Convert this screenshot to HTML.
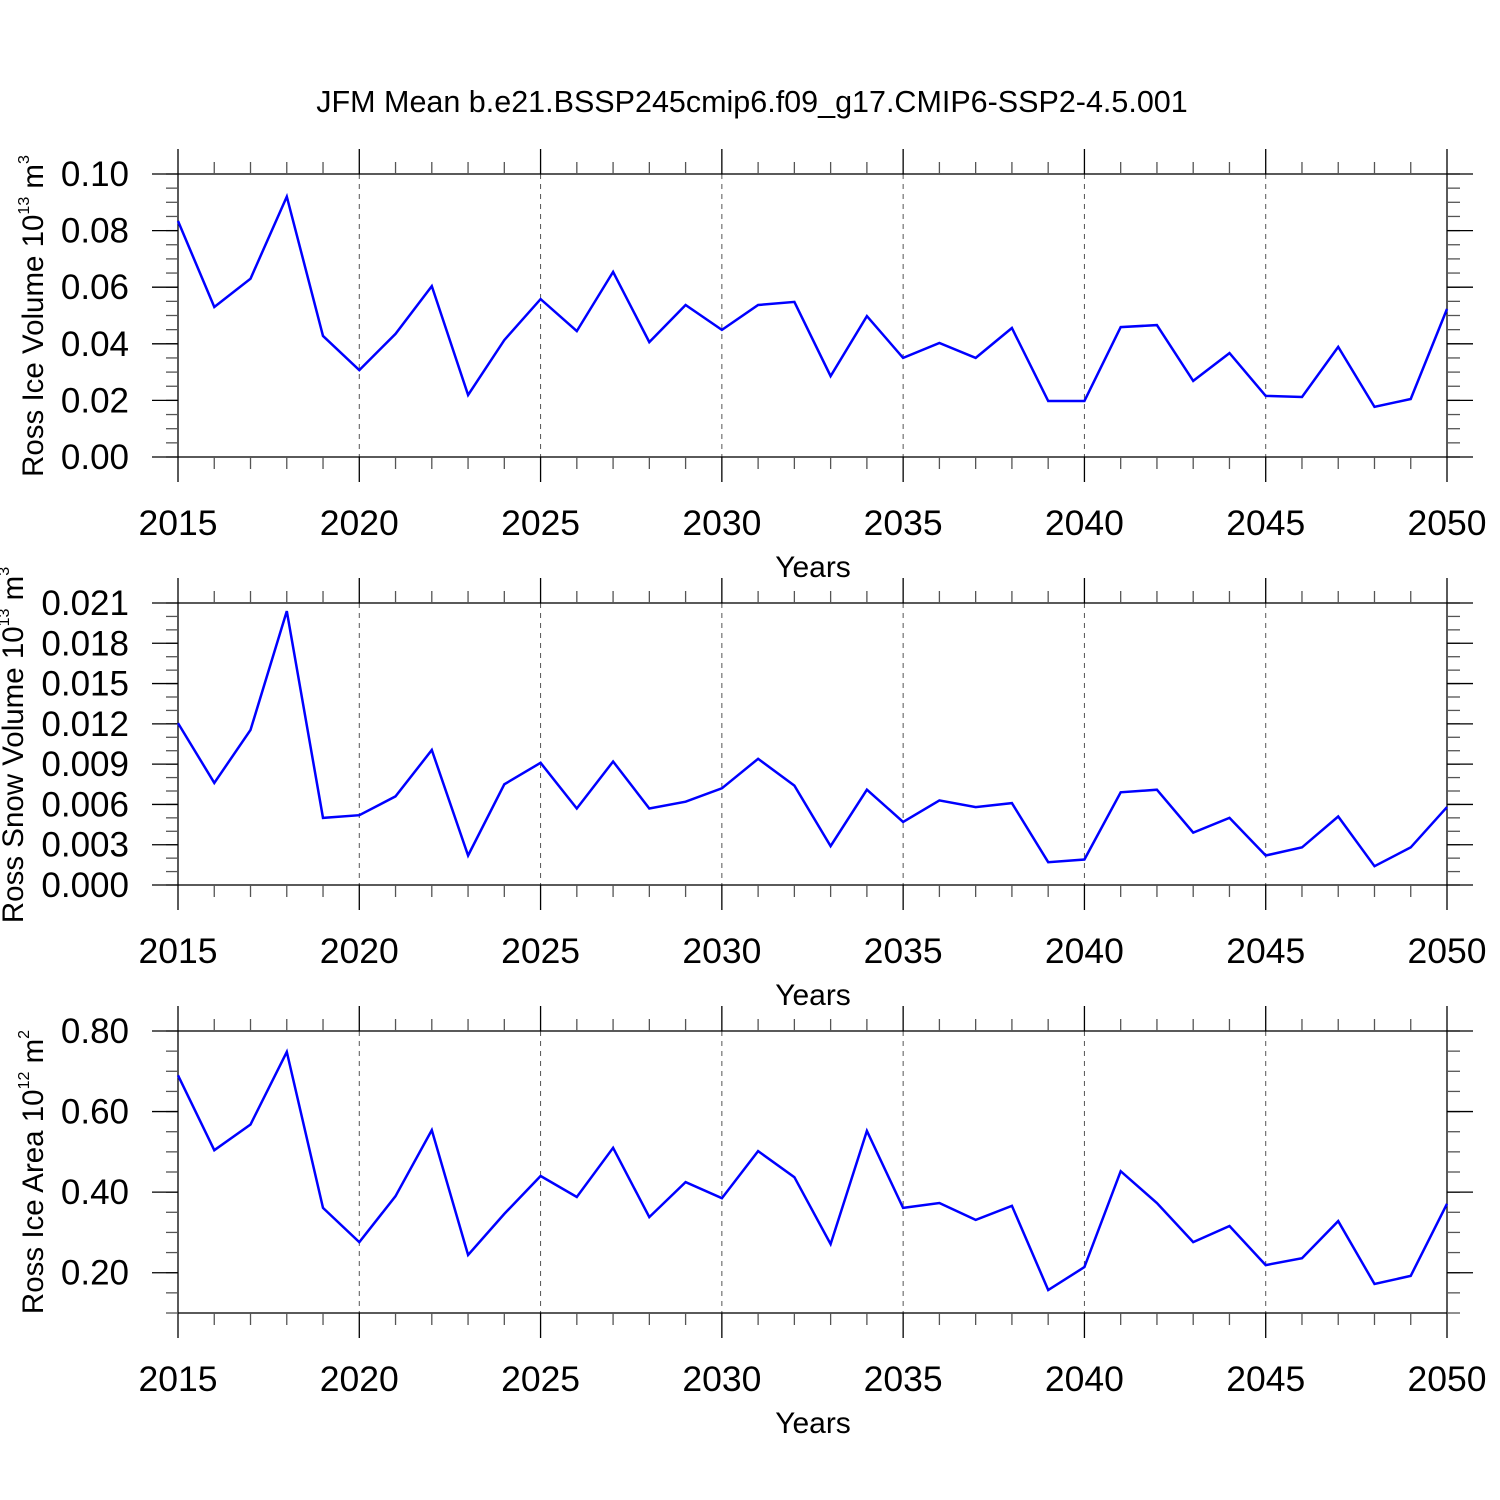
<!DOCTYPE html>
<html><head><meta charset="utf-8"><style>
html,body{margin:0;padding:0;background:#fff;}
svg{display:block;font-family:"Liberation Sans",Arial,sans-serif;}
</style></head><body>
<svg id="chart" width="1500" height="1500" viewBox="0 0 1500 1500" xmlns="http://www.w3.org/2000/svg">
<rect width="1500" height="1500" fill="#fff"/>
<text x="752" y="112" font-size="30.5" text-anchor="middle">JFM Mean b.e21.BSSP245cmip6.f09_g17.CMIP6-SSP2-4.5.001</text>
</svg>
<script>
const years = [2015,2016,2017,2018,2019,2020,2021,2022,2023,2024,2025,2026,2027,2028,2029,2030,2031,2032,2033,2034,2035,2036,2037,2038,2039,2040,2041,2042,2043,2044,2045,2046,2047,2048,2049,2050];
const iceVolume = [0.0834,0.053,0.063,0.092,0.0428,0.0307,0.0435,0.0604,0.0219,0.0413,0.0558,0.0445,0.0654,0.0406,0.0537,0.0449,0.0537,0.0548,0.0286,0.0498,0.035,0.0403,0.035,0.0456,0.0198,0.0198,0.0459,0.0466,0.0269,0.0367,0.0216,0.0212,0.0389,0.0177,0.0205,0.0523];
const snowVolume = [0.01206,0.0076,0.01154,0.0204,0.0050,0.0052,0.0066,0.01005,0.0022,0.0075,0.0091,0.0057,0.0092,0.0057,0.0062,0.0072,0.0094,0.0074,0.0029,0.0071,0.0047,0.0063,0.0058,0.0061,0.0017,0.0019,0.0069,0.0071,0.0039,0.0050,0.0022,0.0028,0.0051,0.0014,0.0028,0.0058];
const iceArea = [0.69,0.504,0.568,0.748,0.361,0.276,0.39,0.554,0.244,0.346,0.44,0.388,0.51,0.338,0.425,0.385,0.502,0.437,0.271,0.552,0.361,0.373,0.331,0.366,0.157,0.214,0.452,0.373,0.276,0.316,0.219,0.236,0.328,0.172,0.192,0.371];
const xTickLabels = ["2015","2020","2025","2030","2035","2040","2045","2050"];
const iceVolTicks = ["0.00","0.02","0.04","0.06","0.08","0.10"];
const snowTicks = ["0.000","0.003","0.006","0.009","0.012","0.015","0.018","0.021"];
const areaTicks = ["0.20","0.40","0.60","0.80"];

const NS="http://www.w3.org/2000/svg";
const svg=document.getElementById('chart');
function mk(tag,attrs,parent){const e=document.createElementNS(NS,tag);for(const k in attrs)e.setAttribute(k,attrs[k]);(parent||svg).appendChild(e);return e;}
const X0=178,X1=1447;
function xs(y){return X0+(y-2015)/(2050-2015)*(X1-X0);}

function panel(cfg){
  const g=mk('g',{});
  
  
  const top=cfg.top,bot=cfg.bot;
  const ys=v=>bot-(v-cfg.ymin)/(cfg.ymax-cfg.ymin)*(bot-top);
  for(let y=2020;y<2050;y+=5){
    const l=mk('line',{x1:xs(y),x2:xs(y),y1:top,y2:bot,stroke:'#555','stroke-width':1,'stroke-dasharray':'5,5'},g);
    
    
  }
  const fr=mk('rect',{x:X0,y:top,width:X1-X0,height:bot-top,fill:'none',stroke:'#000','stroke-width':1.3},g);
  
  
  for(let y=2015;y<=2050;y++){
    const maj=(y%5===0);const L=maj?25:12;const x=xs(y);
    mk('line',{x1:x,x2:x,y1:top-L,y2:top,stroke:maj?'#000':'#555','stroke-width':1.3},g);
    mk('line',{x1:x,x2:x,y1:bot,y2:bot+L,stroke:maj?'#000':'#555','stroke-width':1.3},g);
  }
  xTickLabels.forEach(s=>{
    const t=mk('text',{x:xs(+s),y:bot+78,'font-size':35.5,'text-anchor':'middle'},g);
    
    
    t.textContent=s;
  });
  const xt=mk('text',{x:813,y:bot+120,'font-size':30,'text-anchor':'middle'},g);
  
  
  xt.textContent='Years';
  const nMin=Math.round((cfg.ymax-cfg.ymin)/cfg.minor);
  for(let i=0;i<=nMin;i++){
    const v=cfg.ymin+i*cfg.minor;const y=ys(v);
    mk('line',{x1:X0-12,x2:X0,y1:y,y2:y,stroke:'#555','stroke-width':1.3},g);
    mk('line',{x1:X1,x2:X1+13,y1:y,y2:y,stroke:'#555','stroke-width':1.3},g);
  }
  cfg.ticks.forEach(s=>{
    const y=ys(+s);
    mk('line',{x1:X0-26,x2:X0,y1:y,y2:y,stroke:'#000','stroke-width':1.3},g);
    mk('line',{x1:X1,x2:X1+26,y1:y,y2:y,stroke:'#000','stroke-width':1.3},g);
    const t=mk('text',{x:129,y:y+12,'font-size':35,'text-anchor':'end'},g);
    
    
    t.textContent=s;
  });
  const yt=mk('text',{x:0,y:0,'font-size':29.5,'text-anchor':'middle',transform:`translate(${cfg.tx},${cfg.cy}) rotate(-90)`},g);
  
  
  yt.innerHTML=cfg.title+' 10<tspan font-size="16" dy="-14">'+cfg.exp+'</tspan><tspan dy="14"> m</tspan><tspan font-size="16" dy="-14">'+cfg.pw+'</tspan>';
  const d=cfg.data.map((v,i)=>(i?'L':'M')+xs(years[i]).toFixed(1)+','+ys(v).toFixed(1)).join('');
  const p=mk('path',{d:d,fill:'none',stroke:'#0000ff','stroke-width':2.5,'stroke-linejoin':'miter'},g);
  
  
}
panel({name:'ice-volume-panel',top:174,bot:457,ymin:0,ymax:0.10,minor:0.005,ticks:iceVolTicks,data:iceVolume,title:'Ross Ice Volume',exp:'13',pw:'3',tx:43,cy:316});
panel({name:'snow-volume-panel',top:603,bot:885,ymin:0,ymax:0.021,minor:0.001,ticks:snowTicks,data:snowVolume,title:'Ross Snow Volume',exp:'13',pw:'3',tx:23,cy:745});
panel({name:'ice-area-panel',top:1031,bot:1313,ymin:0.10,ymax:0.80,minor:0.05,ticks:areaTicks,data:iceArea,title:'Ross Ice Area',exp:'12',pw:'2',tx:43,cy:1172});
</script>
</body></html>
